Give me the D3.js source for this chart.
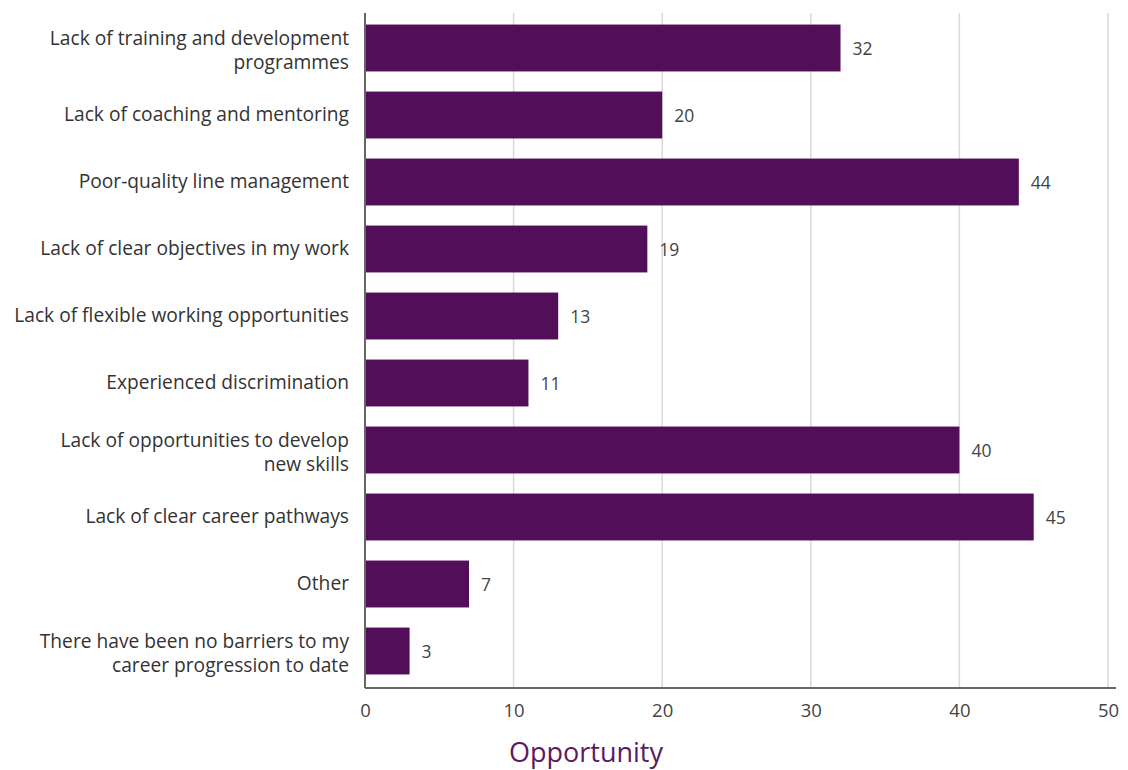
<!DOCTYPE html>
<html>
<head>
<meta charset="utf-8">
<script src="https://cdn.jsdelivr.net/npm/d3@7/dist/d3.min.js"></script>
<style>
  html, body { margin: 0; padding: 0; background: #fff; }
  svg text { font-family: "Open Sans", Lato, sans-serif; }
</style>
</head>
<body>
<svg id="chart" width="1128" height="770"></svg>
<script>
// Barriers to career progression (% of respondents)
const categories = [
  ["Lack of training and development", "programmes"],
  ["Lack of coaching and mentoring"],
  ["Poor-quality line management"],
  ["Lack of clear objectives in my work"],
  ["Lack of flexible working opportunities"],
  ["Experienced discrimination"],
  ["Lack of opportunities to develop", "new skills"],
  ["Lack of clear career pathways"],
  ["Other"],
  ["There have been no barriers to my", "career progression to date"]
];
const values = [32, 20, 44, 19, 13, 11, 40, 45, 7, 3];
const xTicks = [0, 10, 20, 30, 40, 50];
const axisTitle = "Opportunity";

const svg = d3.select("#chart");
const margin = { top: 13, left: 365 };
const plotRight = 1108;
const plotBottom = 688;

const x = d3.scaleLinear().domain([0, 50]).range([margin.left, plotRight]);
const y = d3.scaleBand()
  .domain(d3.range(categories.length))
  .range([14.5, 684.5])
  .paddingInner(0.3)
  .paddingOuter(0.15);

// vertical gridlines
svg.append("g")
  .selectAll("line")
  .data(xTicks.filter(t => t > 0))
  .join("line")
  .attr("x1", d => x(d)).attr("x2", d => x(d))
  .attr("y1", margin.top).attr("y2", plotBottom)
  .attr("stroke", "#d9d9d9").attr("stroke-width", 1.5);

// bars
svg.append("g")
  .selectAll("rect")
  .data(values)
  .join("rect")
  .attr("x", x(0))
  .attr("y", (d, i) => y(i))
  .attr("width", d => x(d) - x(0))
  .attr("height", y.bandwidth())
  .attr("fill", "#530e59");

// value labels
svg.append("g")
  .selectAll("text")
  .data(values)
  .join("text")
  .attr("x", d => x(d) + 12)
  .attr("y", (d, i) => y(i) + y.bandwidth() / 2 + 7)
  .attr("font-size", 17.5)
  .attr("fill", "#444")
  .text(d => d);

// category labels (baselines placed relative to the bar centre)
const catG = svg.append("g");
categories.forEach((lines, i) => {
  const cy = y(i) + y.bandwidth() / 2;
  const lh = 24;
  const n = lines.length;
  const t = catG.append("text")
    .attr("text-anchor", "end")
    .attr("font-size", 19.2)
    .attr("fill", "#333");
  lines.forEach((ln, j) => {
    t.append("tspan")
      .attr("x", margin.left - 16)
      .attr("y", cy + 5.5 + (j - (n - 1) / 2) * lh + (n > 1 ? 3 : 0))
      .text(ln);
  });
});

// x axis
const xAxis = d3.axisBottom(x).tickValues(xTicks).tickSize(0).tickPadding(16);
const gx = svg.append("g")
  .attr("transform", `translate(0,${plotBottom})`)
  .call(xAxis);
gx.select(".domain").remove();
gx.selectAll("text")
  .attr("font-size", 18.5)
  .attr("fill", "#444")
  .attr("font-family", "'Open Sans', Lato, sans-serif");

// axis lines
svg.append("line")
  .attr("x1", margin.left).attr("x2", 1116)
  .attr("y1", plotBottom).attr("y2", plotBottom)
  .attr("stroke", "#666").attr("stroke-width", 2);
svg.append("line")
  .attr("x1", margin.left).attr("x2", margin.left)
  .attr("y1", margin.top).attr("y2", plotBottom)
  .attr("stroke", "#666").attr("stroke-width", 2);

// axis title
svg.append("text")
  .attr("x", 586)
  .attr("y", 762)
  .attr("text-anchor", "middle")
  .attr("font-size", 27)
  .attr("fill", "#5b1a63")
  .text(axisTitle);
</script>
</body>
</html>
